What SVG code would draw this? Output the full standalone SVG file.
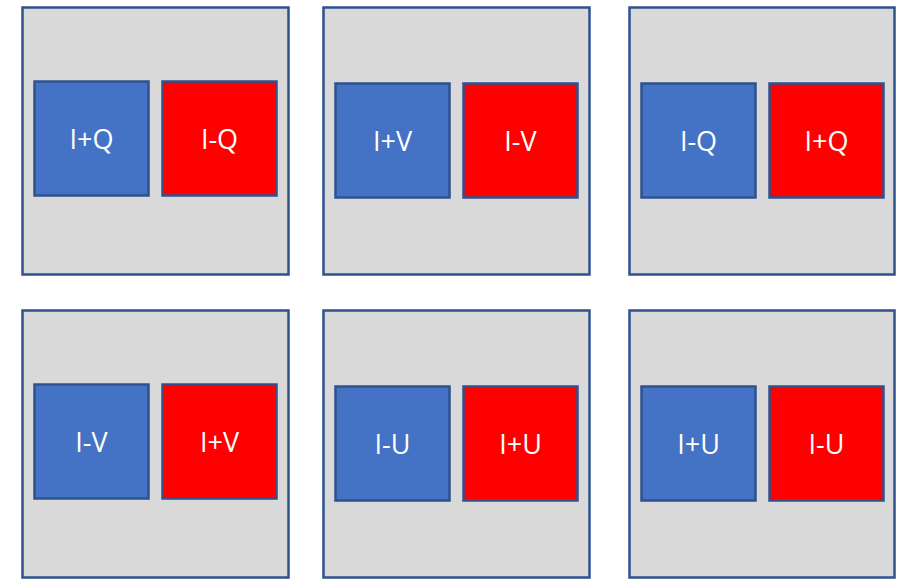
<svg xmlns="http://www.w3.org/2000/svg" width="897" height="580" viewBox="0 0 897 580">
<style>
.panel{fill:#D9D9D9;stroke:#2F528F;stroke-width:2.5}
.blue{fill:#4472C4;stroke:#2F528F;stroke-width:2.5}
.red{fill:#FF0000;stroke:#2F528F;stroke-width:2.5}
.lbl{fill:#FFFFFF;font-family:"Open Sans","Liberation Sans",sans-serif;font-size:27px;text-anchor:middle}
</style>
<rect width="897" height="580" fill="#FFFFFF"/>
<g id="panel1">
<rect class="panel" x="22.5" y="7.5" width="266" height="267"/>
<g id="p1-blue"><rect class="blue" x="34.5" y="81.5" width="114" height="114"/><text class="lbl" x="91.5" y="149">I+Q</text></g>
<g id="p1-red"><rect class="red" x="162.5" y="81.5" width="114" height="114"/><text class="lbl" x="219.5" y="149">I-Q</text></g>
</g>
<g id="panel2">
<rect class="panel" x="323.5" y="7.5" width="266" height="267"/>
<g id="p2-blue"><rect class="blue" x="335.5" y="83.5" width="114" height="114"/><text class="lbl" x="392.5" y="151">I+V</text></g>
<g id="p2-red"><rect class="red" x="463.5" y="83.5" width="114" height="114"/><text class="lbl" x="520.5" y="151">I-V</text></g>
</g>
<g id="panel3">
<rect class="panel" x="629.5" y="7.5" width="265" height="267"/>
<g id="p3-blue"><rect class="blue" x="641.5" y="83.5" width="114" height="114"/><text class="lbl" x="698.5" y="151">I-Q</text></g>
<g id="p3-red"><rect class="red" x="769.5" y="83.5" width="114" height="114"/><text class="lbl" x="826.5" y="151">I+Q</text></g>
</g>
<g id="panel4">
<rect class="panel" x="22.5" y="310.5" width="266" height="267"/>
<g id="p4-blue"><rect class="blue" x="34.5" y="384.5" width="114" height="114"/><text class="lbl" x="91.5" y="452">I-V</text></g>
<g id="p4-red"><rect class="red" x="162.5" y="384.5" width="114" height="114"/><text class="lbl" x="219.5" y="452">I+V</text></g>
</g>
<g id="panel5">
<rect class="panel" x="323.5" y="310.5" width="266" height="267"/>
<g id="p5-blue"><rect class="blue" x="335.5" y="386.5" width="114" height="114"/><text class="lbl" x="392.5" y="454">I-U</text></g>
<g id="p5-red"><rect class="red" x="463.5" y="386.5" width="114" height="114"/><text class="lbl" x="520.5" y="454">I+U</text></g>
</g>
<g id="panel6">
<rect class="panel" x="629.5" y="310.5" width="265" height="267"/>
<g id="p6-blue"><rect class="blue" x="641.5" y="386.5" width="114" height="114"/><text class="lbl" x="698.5" y="454">I+U</text></g>
<g id="p6-red"><rect class="red" x="769.5" y="386.5" width="114" height="114"/><text class="lbl" x="826.5" y="454">I-U</text></g>
</g>
<g id="connectors"/>
</svg>
